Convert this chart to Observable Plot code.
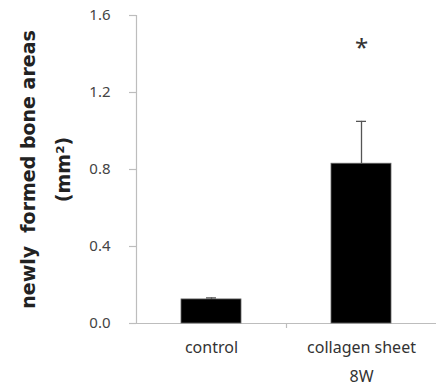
<!DOCTYPE html>
<html>
<head>
<meta charset="utf-8">
<script src="https://cdn.jsdelivr.net/npm/d3@7"></script>
<script src="https://cdn.jsdelivr.net/npm/@observablehq/plot@0.6"></script>
<style>
  html, body { margin: 0; padding: 0; background: #fff; }
  #chart svg { display: block; }
</style>
</head>
<body>
<div id="chart"></div>
<script>
const categories = ["control", "collagen sheet\n8W"];
const values = [0.125, 0.83];
const errors = [0.008, 0.22];
const yTicks = [0, 0.4, 0.8, 1.2, 1.6];
const yTickLabels = ["0.0", "0.4", "0.8", "1.2", "1.6"];
const significance = ["", "*"];
const sigY = [null, 1.46];
const yLabel = "newly  formed bone areas";
const yUnit = "(mm\u00b2)";

const data = categories.map((c, i) => ({
  i, c, v: values[i], e: errors[i], s: significance[i], sy: sigY[i]
}));

const font = "'Noto Sans', 'Open Sans', sans-serif";
const labelFont = "'DejaVu Sans', sans-serif";

const chart = Plot.plot({
  width: 436,
  height: 389,
  marginLeft: 136,
  marginRight: 0,
  marginTop: 15,
  marginBottom: 66,
  style: { fontFamily: font, background: "#fff" },
  x: { type: "linear", domain: [0, categories.length], axis: null },
  y: { domain: [0, 1.6], axis: null },
  marks: [
    // axes lines
    Plot.ruleY([0], { stroke: "#bdbdbd", strokeWidth: 1.2 }),
    Plot.ruleX([0], { stroke: "#bdbdbd", strokeWidth: 1.2 }),
    // y ticks
    Plot.ruleY(yTicks, { x1: 0, x2: 0, y: d => d, stroke: "#bdbdbd", strokeWidth: 1.2, insetLeft: -7 }),
    Plot.text(yTicks, { x: 0, y: d => d, text: (d, i) => yTickLabels[i], textAnchor: "end", dx: -26, fontSize: 15, fill: "#444" }),
    // x ticks at band boundaries
    Plot.ruleX(d3.range(1, categories.length), { x: d => d, y1: 0, y2: 0, stroke: "#bdbdbd", strokeWidth: 1.2, insetBottom: -5 }),
    // bars
    Plot.rectY(data, { x1: d => d.i, x2: d => d.i + 1, y1: 0, y2: "v", fill: "#000", stroke: "#666", strokeWidth: 0.8, insetLeft: 45, insetRight: 45 }),
    // error bars
    Plot.ruleX(data, { x: d => d.i + 0.5, y1: "v", y2: d => d.v + d.e, stroke: "#555", strokeWidth: 1.3 }),
    Plot.ruleY(data, { x1: d => d.i, x2: d => d.i + 1, y: d => d.v + d.e, stroke: "#555", strokeWidth: 1.3, insetLeft: 70, insetRight: 70 }),
    // significance
    Plot.text(data.filter(d => d.s), { x: d => d.i + 0.5, y: "sy", text: "s", fontSize: 24, fill: "#333", dy: 6 }),
    // category labels
    Plot.text(data, { x: d => d.i + 0.5, y: 0, text: "c", dy: 8, lineAnchor: "top", lineHeight: 1.85, fontSize: 16, fill: "#333" }),
    // y label
    Plot.text([yLabel], { frameAnchor: "left", textAnchor: "middle", dx: -108, rotate: -90, fontSize: 19, fontWeight: "bold", fontFamily: labelFont, fill: "#222", text: d => d }),
    Plot.text([yUnit], { frameAnchor: "left", textAnchor: "middle", dx: -73, rotate: -90, fontSize: 19, fontWeight: "bold", fontFamily: labelFont, fill: "#222", text: d => d })
  ]
});

document.getElementById("chart").appendChild(chart);
</script>
</body>
</html>
